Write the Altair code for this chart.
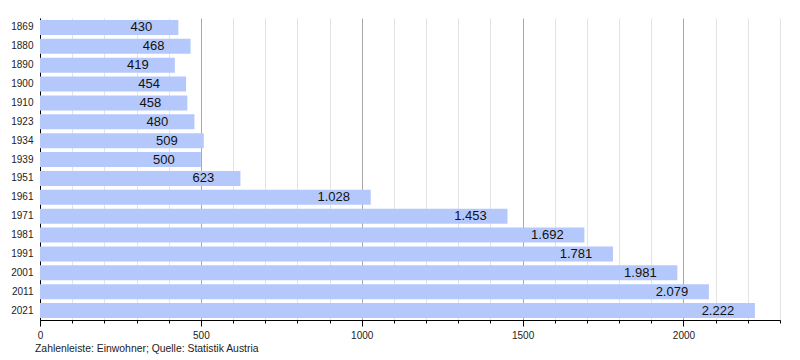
import altair as alt
import pandas as pd

years = ["1869", "1880", "1890", "1900", "1910", "1923", "1934", "1939",
         "1951", "1961", "1971", "1981", "1991", "2001", "2011", "2021"]
population = [430, 468, 419, 454, 458, 480, 509, 500,
              623, 1028, 1453, 1692, 1781, 1981, 2079, 2222]
x_ticks = list(range(0, 2301, 100))
caption = "Zahlenleiste: Einwohner; Quelle: Statistik Austria"

df = pd.DataFrame({"Jahr": years, "Einwohner": population})

FONT = "Liberation Sans"

x_enc = alt.X(
    "Einwohner:Q",
    scale=alt.Scale(domain=[0, 2300], nice=False, zero=True),
    axis=alt.Axis(
        title=None,
        values=x_ticks,
        format="d",
        labelExpr="datum.value % 500 === 0 ? datum.label : ''",
        labelOverlap=False,
        labelFlush=False,
        grid=True,
        gridColor={"condition": {"test": "datum.value % 500 === 0", "value": "#a8a8a8"},
                   "value": "#e3e3e3"},
        tickSize={"condition": {"test": "datum.value % 500 === 0", "value": 6},
                  "value": 3},
        tickColor="black",
        domainColor="black",
        labelFontSize=10,
        labelColor="#222222",
        labelFont=FONT,
        labelPadding=4,
    ),
)

y_enc = alt.Y(
    "Jahr:N",
    sort=None,
    scale=alt.Scale(paddingInner=0.2, paddingOuter=0.1),
    axis=alt.Axis(
        title=None,
        ticks=False,
        grid=False,
        domainColor="black",
        labelFontSize=10,
        labelColor="#222222",
        labelFont=FONT,
        labelPadding=7,
        minExtent=32,
        maxExtent=32,
    ),
)

base = alt.Chart(df).transform_calculate(
    label="replace(format(datum.Einwohner, ','), ',', '.')"
)

bars = base.mark_bar(color="#b4c8fc").encode(x=x_enc, y=y_enc)
labels = base.mark_text(
    align="center", baseline="middle", dx=-37, fontSize=13, color="#111111", font=FONT
).encode(x=x_enc, y=y_enc, text="label:N")

chart = (
    alt.layer(bars, labels)
    .properties(
        width=740,
        height=302,
        padding={"left": 0, "top": 10, "right": 0, "bottom": 0},
        title=alt.TitleParams(
            text=caption,
            orient="bottom",
            anchor="start",
            frame="group",
            dx=-5,
            offset=4,
            fontSize=10.4,
            fontWeight="normal",
            font=FONT,
            color="#222222",
        ),
    )
    .configure_view(stroke=None)
)

chart.save("out.html", embed_options={"renderer": "svg", "actions": False})
